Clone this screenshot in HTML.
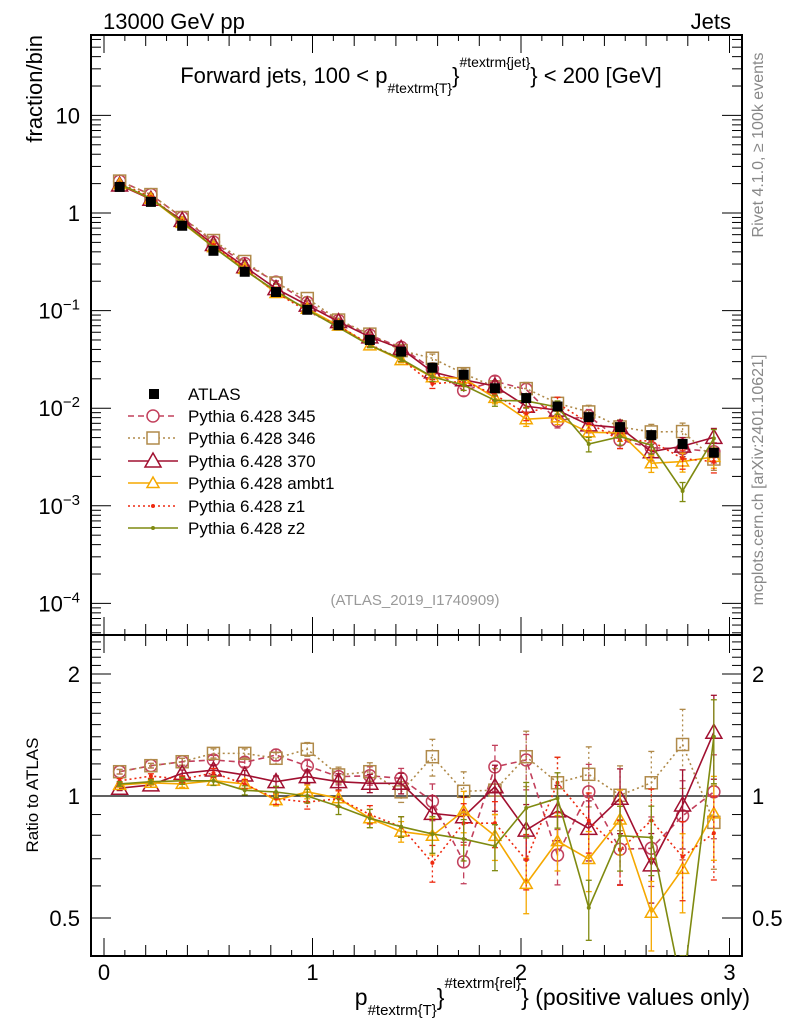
<!DOCTYPE html>
<html><head><meta charset="utf-8"><style>
html,body{margin:0;padding:0;background:#fff;}
svg{display:block;font-family:"Liberation Sans",sans-serif;}
</style></head><body>
<svg id="c" width="786" height="1024" viewBox="0 0 786 1024" xmlns="http://www.w3.org/2000/svg">
<text x="103" y="29" font-size="22">13000 GeV pp</text>
<text x="731" y="29" font-size="22" text-anchor="end">Jets</text>
<text x="421" y="83" font-size="22" text-anchor="middle">Forward jets, 100 &lt; p<tspan font-size="14" dy="10">#textrm{T}</tspan><tspan font-size="22" dy="-10">}</tspan><tspan font-size="14" dy="-16">#textrm{jet}</tspan><tspan font-size="22" dy="16">} &lt; 200 [GeV]</tspan></text>
<text transform="translate(42,35) rotate(-90)" font-size="22" text-anchor="end">fraction/bin</text>
<text transform="translate(38,795) rotate(-90)" font-size="17" text-anchor="middle">Ratio to ATLAS</text>
<text transform="translate(763,145) rotate(-90)" font-size="16" fill="#888" text-anchor="middle">Rivet 4.1.0, ≥ 100k events</text>
<text transform="translate(763,480) rotate(-90)" font-size="16" fill="#888" text-anchor="middle">mcplots.cern.ch [arXiv:2401.10621]</text>
<text x="415" y="605" font-size="15" fill="#999" text-anchor="middle">(ATLAS_2019_I1740909)</text>
<text x="750" y="1005" font-size="23" text-anchor="end">p<tspan font-size="15" dy="10">#textrm{T}</tspan><tspan font-size="23" dy="-10">}</tspan><tspan font-size="15" dy="-17">#textrm{rel}</tspan><tspan font-size="23" dy="17">} (positive values only)</tspan></text>
<g id="g"></g>
</svg>
<script>
const binCenters=[0.075,0.225,0.375,0.525,0.675,0.825,0.975,1.125,1.275,1.425,1.575,1.725,1.875,2.025,2.175,2.325,2.475,2.625,2.775,2.925];
const atlasVals=[1.85,1.3,0.74,0.41,0.25,0.155,0.102,0.071,0.05,0.038,0.026,0.022,0.016,0.0127,0.0104,0.0081,0.0064,0.0053,0.0043,0.0035];
const relErr=[0.01,0.01,0.015,0.02,0.02,0.025,0.03,0.035,0.04,0.045,0.08,0.09,0.1,0.12,0.12,0.13,0.14,0.15,0.17,0.18];
const r345=[1.148,1.188,1.215,1.227,1.211,1.262,1.186,1.116,1.122,1.105,0.97,0.688,1.18,1.227,0.715,1.024,0.739,0.743,0.893,1.024];
const r346=[1.148,1.188,1.215,1.274,1.274,1.239,1.304,1.127,1.148,1.024,1.25,1.027,1.034,1.25,1.078,1.131,1.004,1.078,1.34,0.861];
const r370=[1.045,1.065,1.137,1.159,1.127,1.085,1.116,1.085,1.075,1.075,0.906,0.889,1.054,0.824,0.919,0.832,0.987,0.676,0.95,1.436];
const rAmbt1=[1.065,1.078,1.071,1.091,1.071,0.977,1.024,0.987,0.881,0.817,0.798,0.919,0.797,0.607,0.774,0.699,0.875,0.515,0.661,0.906];
const rZ1=[1.09,1.12,1.10,1.14,1.07,0.985,0.966,0.985,0.90,0.84,0.684,0.857,0.857,0.695,1.078,0.87,0.736,0.87,0.708,0.81];
const rZ2=[1.071,1.085,1.09,1.09,1.033,1.023,1.0,0.943,0.881,0.84,0.806,0.783,0.752,0.934,0.987,0.53,0.798,0.79,0.33,1.40];
const mainExps=["\u22124","\u22123","\u22122","\u22121","",""];
const mainBases=["10","10","10","10","1","10"];
const ratioTicks=["0.5","1","2"];
const xTicks=["0","1","2","3"];

const NS="http://www.w3.org/2000/svg";
const G=document.getElementById('g');
const L=91,R=742,T=35,MB=635,RB=956;
function X(v){return 104+208.5*v;}
function Y(v){return 213-97.6*Math.log10(v);}
function YR(r){return 796-122*Math.log2(r);}
function mk(tag,attrs,parent){const e=document.createElementNS(NS,tag);for(const k in attrs)e.setAttribute(k,attrs[k]);(parent||G).appendChild(e);return e;}

const defs=mk('defs',{});
const c1=mk('clipPath',{id:'cm'},defs);mk('rect',{x:L,y:T,width:R-L,height:MB-T},c1);
const c2=mk('clipPath',{id:'cr'},defs);mk('rect',{x:L,y:MB,width:R-L,height:RB-MB},c2);

let f=mk('rect',{x:L,y:T,width:R-L,height:MB-T,fill:'none',stroke:'#000','stroke-width':2});

f=mk('rect',{x:L,y:MB,width:R-L,height:RB-MB,fill:'none',stroke:'#000','stroke-width':2});


const ticks=mk('g',{stroke:'#000','stroke-width':1});

for(let i=0;i<=30;i++){const x=X(i/10);const len=i%10==0?18:(i%2==0?11:6);
 [[T,1],[MB,-1],[MB,1],[RB,-1]].forEach(([y,d])=>mk('line',{x1:x,x2:x,y1:y,y2:y+d*len},ticks));}
for(let e=-5;e<=1;e++){for(let m=1;m<10;m++){const y=Y(m*Math.pow(10,e));if(y<T||y>MB)continue;const len=m==1?20:10;
 mk('line',{x1:L,x2:L+len,y1:y,y2:y},ticks);mk('line',{x1:R,x2:R-len,y1:y,y2:y},ticks);}}
const rt=[0.4,0.5,0.6,0.7,0.8,0.9,1,1.1,1.2,1.3,1.4,1.5,1.6,1.7,1.8,1.9,2,2.1,2.2,2.3,2.4];
rt.forEach(r=>{const y=YR(r);if(y<MB||y>RB)return;const len=(r==0.5||r==1||r==2)?20:10;
 mk('line',{x1:L,x2:L+len,y1:y,y2:y},ticks);mk('line',{x1:R,x2:R-len,y1:y,y2:y},ticks);});

mainBases.forEach((b,i)=>{const e=i-4;const y=Y(Math.pow(10,e));
 const tx=mk('text',{x:80,y:y+8,'font-size':22,'text-anchor':'end'});
 
 const a=mk('tspan',{},tx);a.textContent=b;
 if(mainExps[i]){const s=mk('tspan',{'font-size':15,dy:-9},tx);s.textContent=mainExps[i];}});
ratioTicks.forEach(t=>{const y=YR(parseFloat(t));[[80,'end'],[752,'start']].forEach(([x,a])=>{const tx=mk('text',{x:x,y:y+8,'font-size':22,'text-anchor':a});tx.textContent=t;
 });});
xTicks.forEach(t=>{const tx=mk('text',{x:X(parseFloat(t)),y:980,'font-size':22,'text-anchor':'middle'});tx.textContent=t;
 });

let rl=mk('line',{x1:L,x2:R,y1:YR(1),y2:YR(1),stroke:'#000','stroke-width':1.3});


const series=[
 {name:'Pythia 6.428 345',r:r345,col:'#c2405c',dash:'6,4',mk:'circle',sz:6,slug:'p345'},
 {name:'Pythia 6.428 346',r:r346,col:'#b08a4a',dash:'2,3',mk:'square',sz:6,slug:'p346'},
 {name:'Pythia 6.428 370',r:r370,col:'#a11030',dash:'',mk:'tri',sz:8,slug:'p370'},
 {name:'Pythia 6.428 ambt1',r:rAmbt1,col:'#f5a800',dash:'',mk:'tri',sz:6,slug:'ambt1'},
 {name:'Pythia 6.428 z1',r:rZ1,col:'#ee2a10',dash:'2,3',mk:'dot',sz:2,slug:'z1'},
 {name:'Pythia 6.428 z2',r:rZ2,col:'#7f8a10',dash:'',mk:'dot',sz:2,slug:'z2'}
];
function marker(type,x,y,s,col,par){
 if(type=='circle')return mk('circle',{cx:x,cy:y,r:s,fill:'none',stroke:col,'stroke-width':1.5},par);
 if(type=='square')return mk('rect',{x:x-s,y:y-s,width:2*s,height:2*s,fill:'none',stroke:col,'stroke-width':1.5},par);
 if(type=='tri')return mk('polygon',{points:`${x},${y-s} ${x-s},${y+s*0.75} ${x+s},${y+s*0.75}`,fill:'none',stroke:col,'stroke-width':1.5},par);
 if(type=='sq')return mk('rect',{x:x-s,y:y-s,width:2*s,height:2*s,fill:col},par);
 return mk('circle',{cx:x,cy:y,r:s,fill:col},par);
}
series.forEach(s=>{
 [['main',v=>Y(v),'cm'],['ratio',v=>YR(v),'cr']].forEach(([panel,fy,clip])=>{
  const g=mk('g',{'clip-path':`url(#${clip})`});
  
  const vals=binCenters.map((c,i)=>panel=='main'?atlasVals[i]*s.r[i]:s.r[i]);
  const pts=binCenters.map((c,i)=>X(c)+','+fy(vals[i])).join(' ');
  const pl=mk('polyline',{points:pts,fill:'none',stroke:s.col,'stroke-width':1.6,'stroke-dasharray':s.dash},g);
  
  binCenters.forEach((c,i)=>{const x=X(c),v=vals[i],e=relErr[i]*1.3;
   const y1=fy(v*(1+e)),y2=fy(Math.max(v*(1-e),1e-9));
   mk('line',{x1:x,x2:x,y1:y1,y2:y2,stroke:s.col,'stroke-width':1.3,'stroke-dasharray':s.dash},g);
   mk('line',{x1:x-3,x2:x+3,y1:y1,y2:y1,stroke:s.col,'stroke-width':1.3},g);
   mk('line',{x1:x-3,x2:x+3,y1:y2,y2:y2,stroke:s.col,'stroke-width':1.3},g);
   const m=marker(s.mk,x,fy(v),s.sz,s.col,g);
   
  });
 });
});
const ag=mk('g',{'clip-path':'url(#cm)'});

binCenters.forEach((c,i)=>{const x=X(c),y=Y(atlasVals[i]);
 const m=marker('sq',x,y,5,'#000',ag);
 });

const lg=mk('g',{});

const ly=[394,416,438,461,483,506,528];
let e=mk('g',{},lg);
marker('sq',154,ly[0],5,'#000',e);
let t=mk('text',{x:188,y:ly[0]+6,'font-size':17},e);t.textContent='ATLAS';
series.forEach((s,i)=>{const y=ly[i+1];const g=mk('g',{},lg);
 
 mk('line',{x1:128,x2:178,y1:y,y2:y,stroke:s.col,'stroke-width':1.6,'stroke-dasharray':s.dash},g);
 marker(s.mk,153,y,s.sz,s.col,g).setAttribute('fill','#fff');
 if(s.mk=='dot')g.lastChild.setAttribute('fill',s.col);
 const tx=mk('text',{x:188,y:y+6,'font-size':17},g);tx.textContent=s.name;});
</script>
</body></html>
